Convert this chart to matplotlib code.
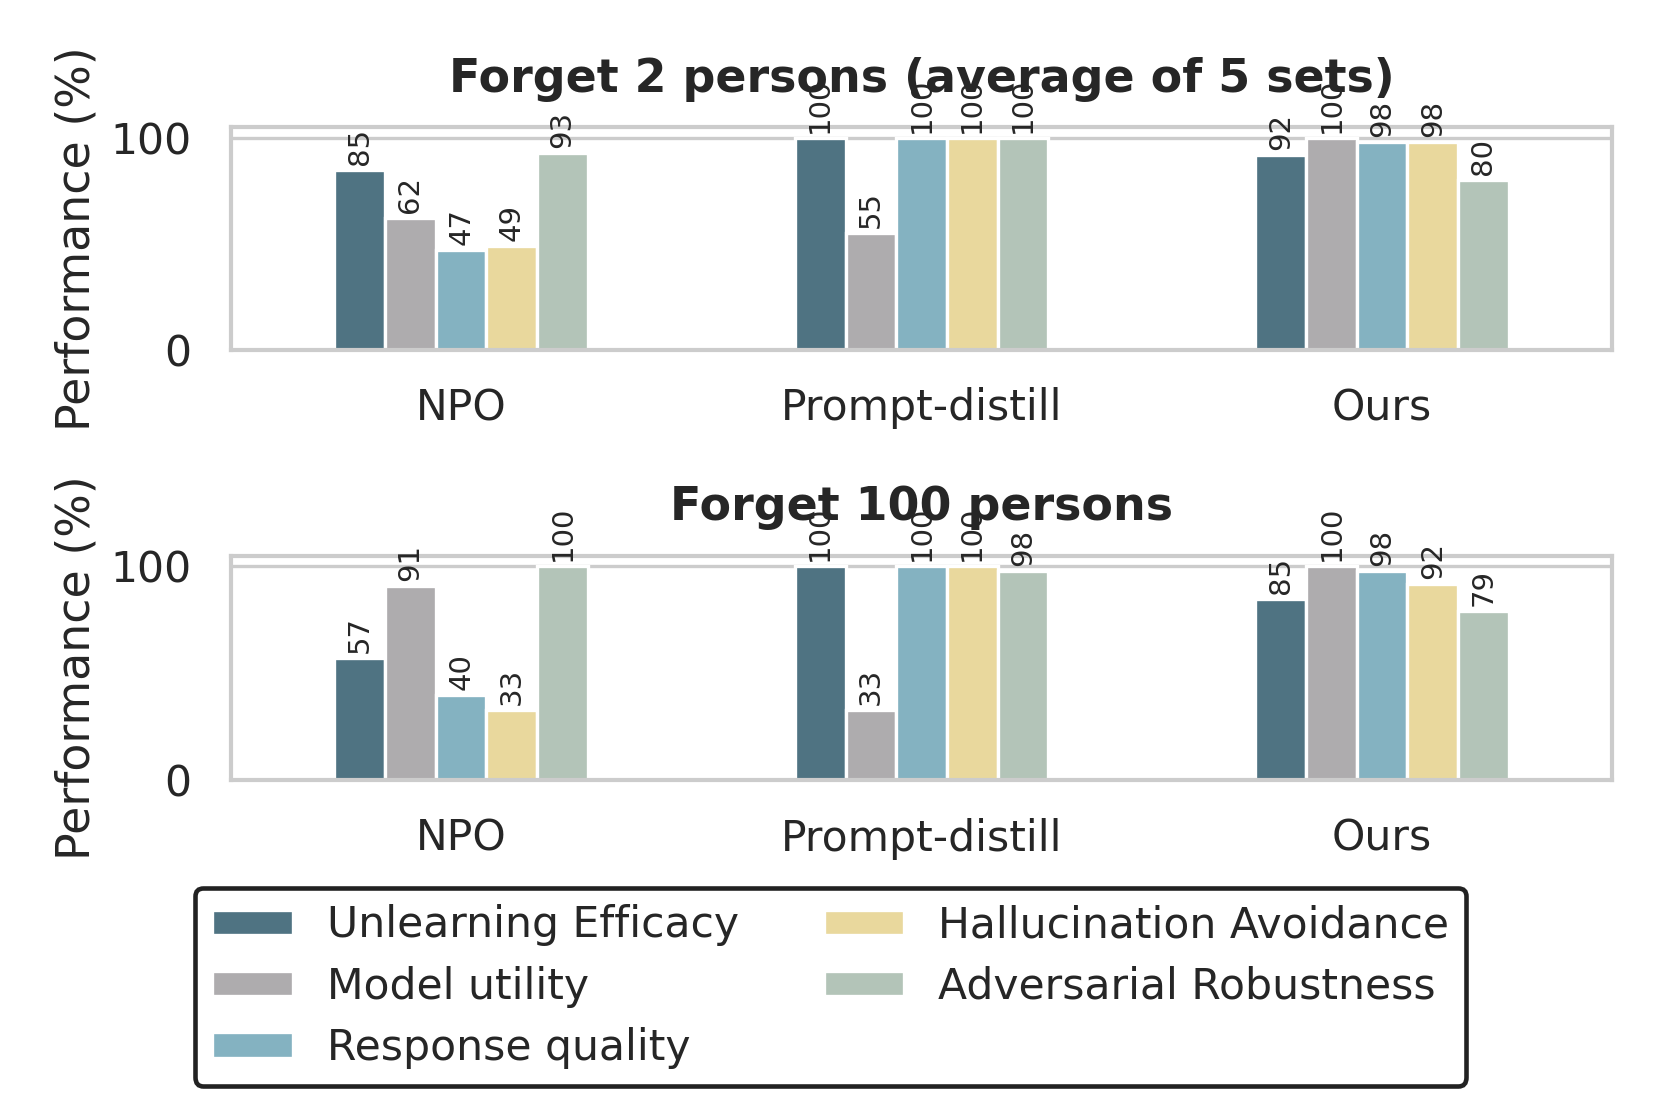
import numpy as np
import matplotlib
matplotlib.use("Agg")
import matplotlib.pyplot as plt
import seaborn as sns

sns.set_theme(style="whitegrid")
plt.rcParams["font.family"] = ["DejaVu Sans"]

methods = ["NPO", "Prompt-distill", "Ours"]
metrics = ["Unlearning Efficacy", "Model utility", "Response quality",
           "Hallucination Avoidance", "Adversarial Robustness"]
colors = ["#4f7382", "#aeacae", "#84b2c1", "#e9d89d", "#b3c4b8"]

titles = ["Forget 2 persons (average of 5 sets)", "Forget 100 persons"]

# rows = methods, columns = metrics
forget2 = np.array([
    [85, 62, 47, 49, 93],
    [100, 55, 100, 100, 100],
    [92, 100, 98, 98, 80],
])
forget100 = np.array([
    [57, 91, 40, 33, 100],
    [100, 33, 100, 100, 98],
    [85, 100, 98, 92, 79],
])

fig = plt.figure(figsize=(1661 / 300, 1107 / 300), dpi=300)
ax1 = fig.add_axes([0.139, 0.684, 0.8317, 0.201])
ax2 = fig.add_axes([0.139, 0.295, 0.8317, 0.203])

width = 0.11
x = np.arange(len(methods))
for ax, data, title in zip([ax1, ax2], [forget2, forget100], titles):
    for j, (name, c) in enumerate(zip(metrics, colors)):
        pos = x + (j - 2) * width
        bars = ax.bar(pos, data[:, j], width, color=c, edgecolor="white",
                      linewidth=0.8, label=name, zorder=2)
        for b, v in zip(bars, data[:, j]):
            ax.annotate(f"{v}", (b.get_x() + b.get_width() / 2, b.get_height()),
                        xytext=(0, 1.2), textcoords="offset points",
                        ha="center", va="bottom", rotation=90, fontsize=7,
                        color="#262626", zorder=3)
    ax.set_xlim(-0.5, 2.5)
    ax.set_ylim(0, 105)
    ax.set_yticks([0, 100])
    ax.set_xticks(x)
    ax.set_xticklabels(methods, fontsize=10.2)
    ax.tick_params(axis="y", labelsize=10.2, pad=3.5)
    ax.tick_params(axis="x", pad=3)
    ax.xaxis.grid(False)
    ax.yaxis.grid(True, color="#cccccc", linewidth=0.8)
    for s in ax.spines.values():
        s.set_color("#cccccc")
        s.set_linewidth(1.0)
    ax.set_ylabel("Performance (%)", fontsize=11, labelpad=2.5)
    t = ax.set_title(title, fontsize=11, fontweight="bold", pad=8.5)
    t.set_zorder(5)

handles, labels = ax1.get_legend_handles_labels()
leg = fig.legend(handles, labels, loc="lower center", ncol=2,
                 bbox_to_anchor=(0.5, 0.0), fontsize=10.2, frameon=True,
                 fancybox=True, framealpha=1, handlelength=1.9,
                 handleheight=0.55, labelspacing=0.45)
leg.get_frame().set_edgecolor("#222222")
leg.get_frame().set_linewidth(1.1)

fig.savefig("out.png", dpi=300)
